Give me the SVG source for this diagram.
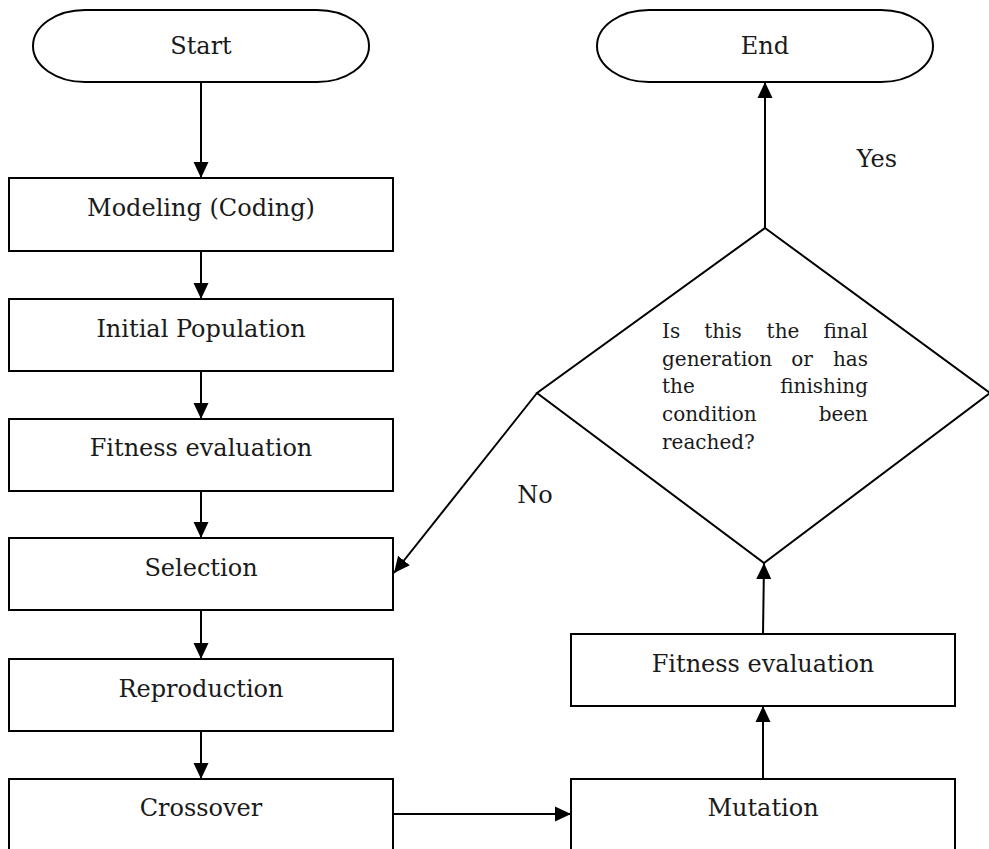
<svg xmlns="http://www.w3.org/2000/svg" width="989" height="849" viewBox="0 0 989 849">
  <style>
    .shape { fill: #ffffff; stroke: #000000; stroke-width: 2; }
    .lbl { font-family: "DejaVu Serif", "Liberation Serif", serif; font-size: 24px; fill: #1a1a1a; text-anchor: middle; }
    .q { font-family: "DejaVu Serif", "Liberation Serif", serif; font-size: 20px; fill: #1a1a1a; }
    .conn { fill: none; stroke: #000000; stroke-width: 2; marker-end: url(#arrow); }
  </style>
  <defs>
    <marker id="arrow" markerUnits="userSpaceOnUse" markerWidth="18" markerHeight="18" viewBox="0 0 18 18" refX="16" refY="9" orient="auto">
      <path d="M0,1.5 L16,9 L0,16.5 Z" fill="#000000"/>
    </marker>
  </defs>
  <rect x="0" y="0" width="989" height="849" fill="#ffffff"/>

  <!-- connectors -->
  <g id="connectors">
    <line class="conn" x1="201" y1="82" x2="201" y2="178"/>
    <line class="conn" x1="201" y1="251" x2="201" y2="299"/>
    <line class="conn" x1="201" y1="371" x2="201" y2="419"/>
    <line class="conn" x1="201" y1="491" x2="201" y2="538"/>
    <line class="conn" x1="201" y1="610" x2="201" y2="659"/>
    <line class="conn" x1="201" y1="731" x2="201" y2="779"/>
    <line class="conn" x1="393" y1="814" x2="571" y2="814"/>
    <line class="conn" x1="763" y1="779" x2="763" y2="706"/>
    <line class="conn" x1="763" y1="634" x2="764" y2="563"/>
    <line class="conn" x1="765" y1="228" x2="765" y2="82"/>
    <line class="conn" x1="537" y1="393" x2="394" y2="573"/>
  </g>

  <!-- nodes -->
  <g id="start">
    <rect class="shape" x="33" y="10" width="336" height="72" rx="52" ry="36"/>
    <text class="lbl" x="201" y="54">Start</text>
  </g>
  <g id="end">
    <rect class="shape" x="597" y="10" width="336" height="72" rx="52" ry="36"/>
    <text class="lbl" x="765" y="54">End</text>
  </g>
  <g id="modeling">
    <rect class="shape" x="9" y="178" width="384" height="73"/>
    <text class="lbl" x="201" y="216">Modeling (Coding)</text>
  </g>
  <g id="initial-population">
    <rect class="shape" x="9" y="299" width="384" height="72"/>
    <text class="lbl" x="201" y="337">Initial Population</text>
  </g>
  <g id="fitness-1">
    <rect class="shape" x="9" y="419" width="384" height="72"/>
    <text class="lbl" x="201" y="456">Fitness evaluation</text>
  </g>
  <g id="selection">
    <rect class="shape" x="9" y="538" width="384" height="72"/>
    <text class="lbl" x="201" y="576">Selection</text>
  </g>
  <g id="reproduction">
    <rect class="shape" x="9" y="659" width="384" height="72"/>
    <text class="lbl" x="201" y="697">Reproduction</text>
  </g>
  <g id="crossover">
    <rect class="shape" x="9" y="779" width="384" height="74"/>
    <text class="lbl" x="201" y="816">Crossover</text>
  </g>
  <g id="mutation">
    <rect class="shape" x="571" y="779" width="384" height="74"/>
    <text class="lbl" x="763" y="816">Mutation</text>
  </g>
  <g id="fitness-2">
    <rect class="shape" x="571" y="634" width="384" height="72"/>
    <text class="lbl" x="763" y="672">Fitness evaluation</text>
  </g>
  <g id="decision">
    <polygon class="shape" points="765,228 990,393 764,563 537,393"/>
    <text class="q" x="662" y="338">Is</text>
    <text class="q" x="723" y="338" text-anchor="middle">this</text>
    <text class="q" x="783" y="338" text-anchor="middle">the</text>
    <text class="q" x="868" y="338" text-anchor="end">final</text>
    <text class="q" x="662" y="366">generation</text>
    <text class="q" x="802" y="366" text-anchor="middle">or</text>
    <text class="q" x="868" y="366" text-anchor="end">has</text>
    <text class="q" x="662" y="393">the</text>
    <text class="q" x="868" y="393" text-anchor="end">finishing</text>
    <text class="q" x="662" y="421">condition</text>
    <text class="q" x="868" y="421" text-anchor="end">been</text>
    <text class="q" x="662" y="449">reached?</text>
  </g>

  <!-- branch labels -->
  <g id="labels">
    <text class="lbl" x="877" y="167">Yes</text>
    <text class="lbl" x="535" y="503">No</text>
  </g>
</svg>
